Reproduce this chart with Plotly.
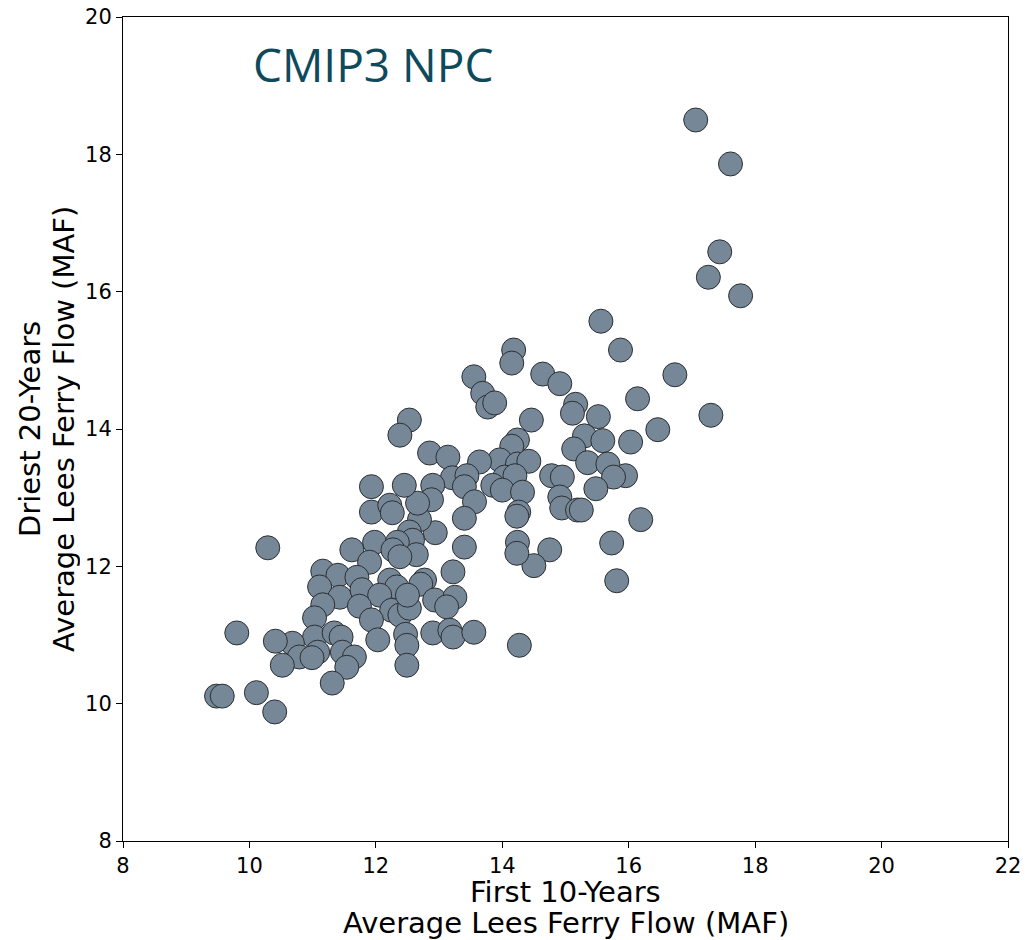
import plotly.graph_objects as go

# First 10-year average Lees Ferry flow (MAF)
first10 = [
    17.06, 17.61, 17.44, 17.26, 17.77, 15.56, 15.87, 16.73, 16.14, 16.46, 17.30, 16.19, 15.73, 15.81, 16.03, 15.95,
    14.64, 14.91, 15.16, 15.11, 15.52, 14.46, 15.30, 15.59, 15.13, 15.35, 15.67, 15.76, 14.78, 14.95, 14.91, 14.94,
    15.19, 15.25, 15.48, 14.75, 14.50,
    14.18, 14.15, 14.24, 14.15, 13.96, 14.24, 14.42, 14.04, 14.20, 13.85, 14.00, 14.32, 14.26, 14.23, 14.24, 14.23, 14.27,
    13.55, 13.69, 13.77, 13.88, 13.64,
    12.53, 12.38, 12.85, 13.14, 13.21, 13.44, 13.40, 12.90, 12.88, 13.56, 13.40, 12.94, 13.40, 12.69, 12.66, 12.45,
    11.93, 11.93, 12.22, 12.26, 12.53, 12.58, 11.62, 11.98, 12.34, 12.27, 12.64, 12.38, 11.90, 10.29,
    11.16, 11.40, 11.70, 12.22, 12.33, 11.11, 11.43, 11.78, 12.06, 11.16, 11.74, 12.25, 12.38, 11.93, 11.03, 11.03,
    11.34, 11.45, 12.03, 12.47, 12.49, 10.68, 11.08, 11.47, 11.66, 10.79, 10.99, 11.54, 11.31, 12.49, 10.41, 10.52,
    9.80, 9.48, 9.57, 10.11, 10.40,
    12.77, 12.71, 13.22, 12.93, 13.25, 13.12, 12.53, 12.50, 12.90, 13.17, 13.22, 13.55,
]

# Driest 20-year average Lees Ferry flow (MAF)
driest20 = [
    18.50, 17.86, 16.58, 16.21, 15.94, 15.57, 15.15, 14.79, 14.44, 13.99, 14.20, 12.68, 12.34, 11.79, 13.81, 13.32,
    14.80, 14.66, 14.36, 14.23, 14.18, 14.13, 13.90, 13.83, 13.71, 13.51, 13.49, 13.30, 13.32, 13.30, 13.01, 12.85,
    12.82, 12.82, 13.13, 12.24, 12.01,
    15.15, 14.96, 13.84, 13.75, 13.55, 13.49, 13.53, 13.30, 13.32, 13.18, 13.11, 13.08, 12.79, 12.73, 12.35, 12.19, 10.85,
    14.76, 14.52, 14.32, 14.38, 13.52,
    14.13, 13.91, 13.65, 13.59, 13.29, 13.32, 13.16, 13.18, 12.97, 12.94, 12.70, 12.49, 12.28, 12.68, 12.92, 13.18,
    13.16, 12.79, 12.89, 12.78, 12.50, 12.38, 12.24, 12.35, 12.35, 12.24, 12.17, 12.14, 12.06, 12.27,
    11.93, 11.87, 11.84, 11.80, 11.70, 11.70, 11.55, 11.66, 11.58, 11.44, 11.42, 11.36, 11.29, 11.22, 11.25, 10.97,
    11.03, 10.97, 10.93, 11.01, 10.85, 10.88, 10.75, 10.75, 10.68, 10.68, 10.67, 10.53, 10.30, 10.56, 10.91, 10.56,
    11.03, 10.11, 10.11, 10.16, 9.88,
    11.80, 11.74, 11.92, 11.51, 11.55, 11.41, 11.39, 11.58, 11.03, 11.07, 10.97, 11.04,
]

x_ticks = [8, 10, 12, 14, 16, 18, 20, 22]
y_ticks = [8, 10, 12, 14, 16, 18, 20]

x_title_lines = ["First 10-Years", "Average Lees Ferry Flow (MAF)"]
y_title_lines = ["Driest 20-Years", "Average Lees Ferry Flow (MAF)"]

fig = go.Figure()
fig.add_trace(go.Scatter(
    x=first10, y=driest20, mode="markers",
    marker=dict(size=24, color="#768797", line=dict(color="#2b2f33", width=1)),
    showlegend=False, hoverinfo="x+y",
))

axis_common = dict(
    showgrid=False, zeroline=False, showline=True, linecolor="black", linewidth=1,
    mirror=True, ticks="outside", ticklen=6, tickwidth=1, tickcolor="black",
    tickfont=dict(family="DejaVu Sans", size=21, color="black"),
    automargin=False,
)

title_font = dict(family="DejaVu Sans", size=29, color="black")
annotations = [
    dict(text=x_title_lines[0], xref="paper", yref="paper", x=0.5, y=-0.0619,
         xanchor="center", yanchor="middle", showarrow=False, font=title_font,
         borderpad=0, height=32, valign="middle"),
    dict(text=x_title_lines[1], xref="paper", yref="paper", x=0.5, y=-0.0995,
         xanchor="center", yanchor="middle", showarrow=False, font=title_font,
         borderpad=0, height=32, valign="middle"),
    dict(text=y_title_lines[0], xref="paper", yref="paper", x=-0.105, y=0.5,
         xanchor="center", yanchor="middle", textangle=-90, showarrow=False, font=title_font,
         borderpad=0, height=32, valign="middle"),
    dict(text=y_title_lines[1], xref="paper", yref="paper", x=-0.0667, y=0.5,
         xanchor="center", yanchor="middle", textangle=-90, showarrow=False, font=title_font,
         borderpad=0, height=32, valign="middle"),
    dict(text="CMIP3 NPC", xref="paper", yref="paper", x=0.2825, y=0.9424,
         xanchor="center", yanchor="middle", showarrow=False,
         font=dict(family="Open Sans", size=46, color="#0e4a5c")),
]

fig.update_layout(
    width=1026, height=940,
    margin=dict(l=123, r=18, t=17, b=99),
    paper_bgcolor="white", plot_bgcolor="white",
    xaxis=dict(range=[8, 22], tickvals=x_ticks, ticktext=[str(v) for v in x_ticks], **axis_common),
    yaxis=dict(range=[8, 20], tickvals=y_ticks, ticktext=[str(v) for v in y_ticks], **axis_common),
    annotations=annotations,
)

fig.write_html("out.html")
